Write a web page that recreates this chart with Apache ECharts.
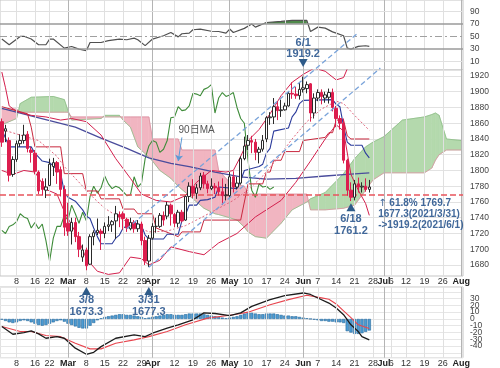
<!DOCTYPE html>
<html><head><meta charset="utf-8">
<script src="https://cdn.jsdelivr.net/npm/echarts@6/dist/echarts.min.js"></script>
<style>html,body{margin:0;padding:0;background:#fff}#c{width:500px;height:368px}</style>
</head><body><div id="c"></div>
<script>
// ---- categories (trading days, incl. future days for the cloud) ----
const febDays=[2,3,4,5,8,9,10,11,12,16,17,18,19,22,23,24,25,26];
const marDays=[1,2,3,4,5,8,9,10,11,12,15,16,17,18,19,22,23,24,25,26,29,30,31];
const aprDays=[1,5,6,7,8,9,12,13,14,15,16,19,20,21,22,23,26,27,28,29,30];
const mayDays=[3,4,5,6,7,10,11,12,13,14,17,18,19,20,21,24,25,26,27,28];
const junDays=[1,2,3,4,7,8,9,10,11,14,15,16,17,18,21,22,23,24,25,28,29,30];
const julDays=[1,2,6,7,8,9,12,13,14,15,16,19,20,21,22,23,26,27,28,29,30];
const augDays=[2];
const tickIdx=[4,9,13,18,23,28,33,38,41,47,52,57,62,67,72,77,82,86,91,96,101,104,106,110,115,120,125];
const tickText=['8','16','22','Mar','8','15','22','29','Apr','12','19','26','May','10','17','24','Jun','7','14','21','28','Jul','6','12','19','26','Aug'];
const monthIdx=[18,41,62,82,104,125];

// ---- price (OHLC) ----
const open=[1862,1850,1838,1795,1814,1834,1838,1846,1826,1822,1798,1786,1775,1781,1805,1810,1801,1776,1733,1723,1734,1716,1690,1699,1681,1716,1721,1723,1720,1729,1731,1736,1744,1745,1738,1726,1734,1726,1732,1711,1685,1714,1729,1729,1743,1742,1756,1744,1733,1747,1737,1767,1780,1771,1778,1794,1783,1777,1780,1778,1773,1768,1768,1792,1779,1784,1815,1832,1838,1836,1823,1827,1840,1867,1868,1881,1876,1877,1882,1898,1897,1895,1903,1904,1910,1873,1892,1899,1892,1893,1899,1879,1866,1860,1813,1775,1766,1783,1779,1780,1776];
const high=[1866,1858,1842,1818,1838,1846,1858,1850,1830,1826,1800,1790,1790,1815,1816,1812,1805,1781,1759,1740,1740,1722,1706,1702,1719,1724,1739,1726,1734,1742,1737,1755,1748,1748,1740,1740,1737,1737,1735,1716,1718,1733,1740,1746,1748,1760,1758,1746,1750,1750,1768,1785,1789,1783,1797,1798,1787,1790,1784,1786,1790,1783,1798,1799,1792,1818,1843,1845,1844,1840,1830,1845,1869,1874,1892,1888,1890,1886,1900,1912,1906,1911,1919.2,1913,1911,1898,1903,1903,1900,1904,1904,1882,1870,1866,1815,1785,1788,1791,1785,1790,1788];
const low=[1830,1836,1786,1792,1811,1830,1834,1823,1810,1795,1770,1768,1765,1780,1793,1783,1767,1717,1717,1706,1709,1690,1684,1673.3,1680,1705,1718,1699,1714,1723,1722,1713,1728,1725,1722,1724,1721,1722,1705,1680,1677.3,1712,1721,1727,1730,1738,1730,1728,1728,1734,1736,1760,1765,1764,1775,1777,1771,1775,1770,1768,1756,1762,1765,1772,1776,1782,1813,1826,1822,1813,1809,1824,1836,1858,1859,1864,1868,1876,1881,1891,1891,1890,1899,1898,1862,1866,1888,1884,1886,1885,1875,1855,1852,1809,1768,1761.2,1762,1772,1772,1773,1772];
const close=[1836,1853,1794,1814,1834,1838,1845,1828,1823,1799,1774,1776,1779,1808,1810,1798,1776,1728,1723,1734,1716,1700,1699,1679,1716,1721,1724,1720,1729,1731,1735,1745,1741,1739,1727,1734,1726,1732,1711,1685,1714,1729,1729,1743,1737,1756,1745,1733,1747,1736,1767,1780,1771,1778,1793,1783,1777,1780,1778,1773,1768,1769,1792,1779,1784,1815,1831,1838,1836,1823,1827,1838,1867,1868,1881,1876,1877,1882,1898,1897,1895,1903,1905,1909,1873,1892,1899,1894,1896,1899,1880,1866,1860,1813,1775,1766,1783,1779,1780,1776,1779];

// ---- indicator lines: [dayIndex, value] ----
const lagging=[1724,1720,1729,1731,1735,1745,1741,1739,1727,1734,1726,1732,1711,1685,1714,1729,1729,1743,1737,1756,1745,1733,1747,1736,1767,1780,1771,1778,1793,1783,1777,1780,1778,1773,1768,1769,1792,1779,1784,1815,1831,1838,1836,1823,1827,1838,1867,1868,1881,1876,1877,1882,1898,1897,1895,1903,1905,1909,1873,1892,1899,1894,1896,1899,1880,1866,1860,1813,1775,1766,1783,1779,1780,1776,1779];
const ma90=[[0,1879],[9,1868],[20,1855],[27,1841],[34,1828],[40,1816],[46,1809],[51,1805],[58,1798],[65,1792],[72,1789],[80,1790],[88,1793],[94,1795],[100,1797]];
const ma25=[[0,1852],[5,1845],[10,1838],[15,1818],[17,1805],[20,1790],[25,1765],[28,1752],[32,1740],[36,1730],[40,1722],[45,1723],[50,1730],[55,1742],[59,1752],[63,1762],[67,1775],[71,1793],[75,1815],[79,1840],[83,1862],[87,1878],[91,1888],[93,1885],[96,1870],[100,1851]];
const bbUpper=[[0,1925],[1,1905],[2,1882],[4,1875],[8,1870],[12,1868],[16,1864],[19,1866],[23,1862],[27,1845],[31,1815],[35,1790],[38,1770],[42,1762],[46,1760],[50,1768],[53,1785],[57,1800],[61,1798],[63,1800],[65,1818],[67,1838],[70,1852],[73,1872],[76,1895],[79,1912],[82,1922],[85,1930],[88,1926],[91,1915],[93,1918],[95,1940],[97,1950],[100,1952]];
const bbLower=[[0,1800],[3,1795],[6,1800],[9,1798],[12,1776],[15,1770],[17,1748],[20,1722],[23,1688],[26,1672],[29,1668],[32,1670],[35,1690],[38,1688],[40,1680],[43,1686],[46,1703],[51,1697],[55,1693],[59,1708],[64,1720],[69,1741],[76,1762],[80,1785],[84,1812],[88,1840],[91,1858],[93,1850],[95,1795],[97,1775],[99,1758],[100,1743]];
const kijun=[[0,1881],[7,1872],[8,1855],[9,1830],[16,1830],[17,1796],[22,1796],[23,1774],[26,1774],[27,1764],[32,1764],[33,1751],[36,1751],[37,1745],[41,1745],[42,1727],[48,1716],[49,1722],[54,1722],[55,1737],[65,1737],[66,1760],[67,1783],[71,1783],[72,1798],[73,1798],[74,1813],[76,1813],[77,1824],[81,1824],[82,1838],[88,1842],[89,1848],[90,1848],[91,1864],[93,1864],[94,1844],[95,1840],[100,1840]];
const tenkan=[[0,1852],[2,1830],[8,1830],[9,1822],[11,1812],[13,1810],[16,1797],[17,1772],[18,1766],[20,1761],[22,1750],[23,1742],[24,1739],[25,1727],[26,1716],[27,1707],[30,1707],[31,1714],[32,1718],[33,1727],[36,1734],[38,1730],[39,1718],[40,1713],[44,1713],[45,1719],[48,1719],[49,1736],[50,1744],[51,1756],[53,1756],[54,1762],[56,1763],[58,1766],[59,1779],[64,1777],[65,1787],[66,1800],[70,1805],[71,1808],[72,1822],[73,1828],[74,1850],[78,1854],[79,1868],[80,1874],[81,1885],[82,1889],[90,1890],[91,1884],[92,1881],[93,1856],[94,1836],[95,1832],[98,1832],[99,1822],[100,1816]];
// cloud (leading spans), shared day positions
const cloudIdx=[0,4,5,8,14,17,18,19,27,28,32,33,35,37,40,41,43,46,48,49,55,58,59,62,64,66,67,69,72,76,79,83,84,88,93,96,99,101,104,109,115,117,118,119,121,125];
const spanA=[1858,1866,1885,1893,1894,1890,1876,1864,1866,1870,1870,1864,1855,1830,1817,1812,1800,1790,1780,1776,1752,1745,1744,1740,1737,1728,1722,1716,1714,1733,1750,1760,1764,1772,1796,1815,1830,1836,1843,1864,1868,1871,1873,1870,1840,1838];
const spanB=[1878,1878,1874,1874,1874,1874,1874,1868,1868,1868,1868,1868,1868,1868,1868,1840,1840,1840,1840,1826,1826,1826,1800,1785,1782,1780,1770,1770,1770,1770,1770,1770,1750,1750,1752,1756,1775,1788,1797,1797,1797,1803,1813,1820,1826,1826];
// trend channel
const trendUpper=[[34,1726],[97,1975]];
const trendLower=[[40,1677],[103,1930]];
const fibLevel=1769.7;

// ---- RSI ----
const rsi=[[0,45.5],[2,36.4],[5,49.7],[6,50],[8,45.5],[10,36.4],[12,36.4],[13,45.5],[14,45.5],[17,31],[19,33.6],[21,29.4],[23,26.8],[24,40],[27,40],[29,43],[32,45.5],[34,44.4],[36,47],[37,44.4],[39,35],[41,45.5],[44,50.8],[46,56],[48,49],[49,54],[51,55],[52,60.4],[54,61.5],[57,58],[59,57.6],[61,55],[62,61.5],[63,56],[66,62.6],[68,69.6],[69,64.6],[72,72],[76,73.7],[79,75.3],[83,75.3],[84,57.7],[86,64.6],[88,63],[90,57],[91,55],[93,50.8],[94,31],[95,29.5],[97,33.7],[99,34.8],[100,33.7]];
const rsiHot=[[71,70],[72,72],[76,73.7],[79,75.3],[83,75.3],[83,70]];
const rsiTicks=[10,30,50,70,90];

// ---- MACD ----
const macd=[[0,-11],[3,-22.5],[6,-20],[8,-17.5],[10,-22],[12,-28.4],[15,-26],[17,-28.4],[20,-43],[23,-52],[25,-49],[27,-40.7],[31,-28.4],[36,-23.4],[39,-26],[41,-21],[45,-13.6],[48,-8.6],[52,-1.2],[55,9],[58,8],[62,5],[65,9],[68,18.5],[73,28.4],[77,34.4],[82,38.2],[84,36],[86,30.8],[89,23.4],[91,16],[93,6.2],[95,-8.6],[97,-18.5],[98,-26],[100,-30.8]];
const signal=[[0,-11],[5,-18.5],[8,-18.5],[12,-24.4],[16,-26],[20,-35.8],[24,-44],[27,-44],[31,-35.8],[36,-30.8],[40,-26],[45,-18.5],[50,-8.6],[56,1.2],[63,6.2],[67,10],[73,21],[78,28.4],[83,34.8],[87,31],[89,29],[91,22],[93,12],[95,2],[97,-8.6],[100,-14]];
const hist=[-1,-3,-5,-6,-5,-3,-2,-3,-5,-7,-9,-10,-9,-7,-5,-3,-2,-4,-7,-9,-11,-13,-14,-14,-10,-6,-2,1,3,4,5,6,7,7,6,6,5,4,3,1,2,3,4,5,6,7,7,6,6,6,7,8,8,8,8,7,6,5,4,3,2,1,2,3,4,6,8,9,9,8,7,7,8,8,8,7,6,5,5,4,4,3,2,1,0,-1,-2,-3,-3,-4,-4,-5,-5,-6,-18,-20,-22,-22,-21,-19,-17];

// ---- annotations (price-scale positions) ----
const annIdx=[82,23,40,95];
const annText=['6/1\n1919.2','3/8\n1673.3','3/31\n1677.3','6/18\n1761.2'];
const annPos=[1936.5,1647,1647,1753.3];
const annDown=[true,false,false,false];
const annGap=[-1,-0.5,-0.5,2];

// ---------------------------------------------------------------
const cats=[];
[[2,febDays],[3,marDays],[4,aprDays],[5,mayDays],[6,junDays],[7,julDays],[8,augDays]].forEach(([m,ds])=>ds.forEach(d=>cats.push(m+'/'+d)));
const candle=open.map((o,i)=>[o,close[i],low[i],high[i]]);
const FONT='"Liberation Sans", Arial, "Noto Sans CJK JP", sans-serif';
const vLines=tickIdx.map(i=>({xAxis:i,lineStyle:{color:monthIdx.includes(i)?'#b4b4b4':'#e0e0e0',width:1,type:'solid'}}));
const tickSet=new Set(tickIdx);
const labelCfg={show:true,interval:(idx)=>tickSet.has(idx),hideOverlap:false,fontSize:9,color:'#333',margin:1,
  formatter:(v,idx)=>{const k=tickIdx.indexOf(idx);if(k<0)return '';const t=tickText[k];return /[A-Z]/.test(t)?'{b|'+t+'}':t;},
  rich:{b:{fontWeight:'bold',fontSize:9,color:'#222'}}};
const xBase={type:'category',data:cats,boundaryGap:true,axisTick:{show:false},axisLine:{show:false},splitLine:{show:false}};
const blueTxt='#41689a';
function line(data,color,width,extra){return Object.assign({type:'line',xAxisIndex:1,yAxisIndex:1,data:data,symbol:'none',silent:true,lineStyle:{color:color,width:width},z:3},extra||{});}
const cloudGreen='#b4d9ad', cloudPink='#f1b5c1';
// overlay grid spanning the whole canvas on the same price scale (for annotations outside the price panel)
const mainTop=70, mainH=206, mainMin=1666, mainMax=1927.6;
const pxPer=mainH/(mainMax-mainMin);
const ovMax=mainMax+mainTop/pxPer, ovMin=ovMax-368/pxPer;

const option={
  animation:false,backgroundColor:'#fff',
  textStyle:{fontFamily:FONT},
  grid:[
    {left:0,right:37,top:0,height:70,show:true,borderColor:'#c4c4c4',borderWidth:1,outerBoundsMode:'none'},
    {left:0,right:37,top:mainTop,height:mainH,show:true,borderColor:'#c4c4c4',borderWidth:1,outerBoundsMode:'none'},
    {left:0,right:37,top:287,height:70.7,show:true,borderColor:'#c4c4c4',borderWidth:1,outerBoundsMode:'none'},
    {left:0,right:37,top:0,height:368,show:false,outerBoundsMode:'none'}
  ],
  xAxis:[
    Object.assign({},xBase,{gridIndex:0,axisLabel:{show:false}}),
    Object.assign({},xBase,{gridIndex:1,axisLabel:labelCfg}),
    Object.assign({},xBase,{gridIndex:2,axisLabel:labelCfg}),
    Object.assign({},xBase,{gridIndex:3,show:false})
  ],
  yAxis:[
    {gridIndex:0,type:'value',position:'right',min:-4,max:108,minInterval:10,maxInterval:10,axisLine:{show:false},axisTick:{show:false},splitLine:{show:false},
      axisLabel:{fontSize:8.5,color:'#444',margin:7,formatter:v=>rsiTicks.includes(Math.round(v))&&Math.abs(v-Math.round(v))<1e-6?String(v):''}},
    {gridIndex:1,type:'value',position:'right',min:mainMin,max:mainMax,minInterval:20,maxInterval:20,axisLine:{show:false},axisTick:{show:false},
      splitLine:{show:true,lineStyle:{color:'#e2e2e2',width:1}},
      axisLabel:{fontSize:8.5,color:'#444',margin:7,formatter:v=>(Math.abs(v%20)<1e-6&&v>=1680&&v<=1920)?String(v):''}},
    {gridIndex:2,type:'value',position:'right',min:-57,max:47,minInterval:10,maxInterval:10,axisLine:{show:false},axisTick:{show:false},
      splitLine:{show:true,lineStyle:{color:'#e6e6e6',width:1}},
      axisLabel:{fontSize:8.5,color:'#444',margin:7,formatter:v=>(Math.abs(v%10)<1e-6&&v>=-40&&v<=30)?String(v):''}},
    {gridIndex:3,type:'value',min:ovMin,max:ovMax,show:false,splitLine:{show:false}}
  ],
  series:[
    // ---------- RSI panel ----------
    {type:'line',xAxisIndex:0,yAxisIndex:0,data:[],silent:true,z:0,
      markLine:{silent:true,symbol:['none','none'],label:{show:false},animation:false,data:vLines.concat([
        {yAxis:90,lineStyle:{color:'#e0e0e0',width:1,type:'solid'}},
        {yAxis:10,lineStyle:{color:'#e0e0e0',width:1,type:'solid'}},
        {yAxis:70,lineStyle:{color:'#9a9a9a',width:1.5,type:'solid'}},
        {yAxis:30,lineStyle:{color:'#9a9a9a',width:1.5,type:'solid'}},
        {yAxis:50,lineStyle:{color:'#a0a0a0',width:1,type:[7,3,2,3]}}
      ])}},
    {type:'custom',xAxisIndex:0,yAxisIndex:0,silent:true,z:2,data:[rsiHot[0]],
      renderItem:(p,api)=>({type:'polygon',shape:{points:rsiHot.map(pt=>api.coord(pt))},style:{fill:'#4f8a4b'}})},
    {type:'line',xAxisIndex:0,yAxisIndex:0,data:rsi,symbol:'none',silent:true,z:3,lineStyle:{color:'#505050',width:1.2}},

    // ---------- main panel ----------
    {type:'line',xAxisIndex:1,yAxisIndex:1,data:[],silent:true,z:0,
      markLine:{silent:true,symbol:['none','none'],label:{show:false},animation:false,data:vLines}},
    {type:'custom',xAxisIndex:1,yAxisIndex:1,silent:true,z:1,clip:true,
      data:cloudIdx.map((x,k)=>[x,spanA[k],spanB[k]]),encode:{x:0,y:[1,2]},
      renderItem:(params,api)=>{
        const k=params.dataIndex;
        if(k>=cloudIdx.length-1) return {type:'group',children:[]};
        const x0=cloudIdx[k],x1=cloudIdx[k+1];
        const a0=api.coord([x0,spanA[k]]),b0=api.coord([x0,spanB[k]]);
        const a1=api.coord([x1,spanA[k+1]]),b1=api.coord([x1,spanB[k+1]]);
        const d0=spanA[k]-spanB[k],d1=spanA[k+1]-spanB[k+1];
        const col=d=>d>=0?cloudGreen:cloudPink;
        const poly=(pts,c)=>({type:'polygon',shape:{points:pts},style:{fill:c,stroke:c,lineWidth:0.6}});
        const ch=[];
        if(d0*d1>=0){ch.push(poly([a0,a1,b1,b0],col(d0!==0?d0:d1)));}
        else{const t=d0/(d0-d1);const c=[a0[0]+t*(a1[0]-a0[0]),a0[1]+t*(a1[1]-a0[1])];
          ch.push(poly([a0,c,b0],col(d0)));ch.push(poly([c,a1,b1],col(d1)));}
        return {type:'group',children:ch};
      }},
    line(cloudIdx.map((x,k)=>[x,spanA[k]]),'#8dbd86',0.8,{z:2}),
    line(cloudIdx.map((x,k)=>[x,spanB[k]]),'#d8909f',0.8,{z:2}),
    line(lagging,'#3f8c3a',1.1),
    line(ma90,'#4a4c9c',1.3),
    line(bbUpper,'#d3204d',1),
    line(bbLower,'#d3204d',1),
    line(kijun,'#c8283e',1),
    line(ma25,'#e0667e',1,{lineStyle:{color:'#e0667e',width:1,type:[2,2]}}),
    line(tenkan,'#2c3c9c',1.1),
    {type:'candlestick',xAxisIndex:1,yAxisIndex:1,data:candle,barWidth:3,silent:true,z:5,
      itemStyle:{color:'#ffffff',color0:'#dc1e4e',borderColor:'#2a2a2a',borderColor0:'#dc1e4e',borderWidth:1},
      markLine:{silent:true,symbol:['none','none'],label:{show:false},animation:false,
        data:[{yAxis:fibLevel,lineStyle:{color:'#e8545c',width:1.5,type:[6,3]}}]}},
    line(trendUpper,'#79a3da',1.3,{clip:false,z:6,lineStyle:{color:'#79a3da',width:1.3,type:[5,3]}}),
    line(trendLower,'#79a3da',1.3,{clip:false,z:6,lineStyle:{color:'#79a3da',width:1.3,type:[5,3]}}),
    // annotations on the overlay grid (same price scale, whole canvas)
    {type:'line',xAxisIndex:3,yAxisIndex:3,data:[],silent:true,z:20,
      markLine:{silent:true,animation:false,symbol:['none','arrow'],symbolSize:6,label:{show:false},
        data:[[{coord:[49,1842]},{coord:[48,1812]}]],lineStyle:{color:'#5b9ad6',width:1,type:'solid'}},
      markPoint:{silent:true,animation:false,data:annIdx.map((ix,k)=>({
          coord:[ix,annPos[k]],symbol:'triangle',symbolRotate:annDown[k]?180:0,symbolSize:[9,8],
          itemStyle:{color:'#2e5b89'},
          label:{show:true,position:annDown[k]?'top':'bottom',distance:annGap[k],formatter:annText[k],
            color:blueTxt,fontSize:11,fontWeight:'bold',lineHeight:11.5,align:'center',fontFamily:FONT}
        })).concat([
          {coord:[53,1851],symbol:'circle',symbolSize:1,itemStyle:{color:'rgba(0,0,0,0)'},
            label:{show:true,position:'inside',formatter:'90日MA',color:'#555',fontSize:10,fontFamily:FONT}},
          {coord:[105,fibLevel],symbol:'circle',symbolSize:1,itemStyle:{color:'rgba(0,0,0,0)'},
            label:{show:true,position:[-9,4],align:'left',verticalAlign:'top',lineHeight:11,
              formatter:'{a|↑} 61.8% 1769.7\n1677.3(2021/3/31)\n->1919.2(2021/6/1)',color:blueTxt,fontSize:10,fontWeight:'bold',fontFamily:FONT,
              rich:{a:{fontFamily:'"DejaVu Sans", sans-serif',fontWeight:'normal',fontSize:10,color:blueTxt,lineHeight:11}}}}
        ])}},

    // ---------- MACD panel ----------
    {type:'line',xAxisIndex:2,yAxisIndex:2,data:[],silent:true,z:0,
      markLine:{silent:true,symbol:['none','none'],label:{show:false},animation:false,data:vLines}},
    {type:'bar',xAxisIndex:2,yAxisIndex:2,data:hist,barCategoryGap:'12%',silent:true,z:2,
      itemStyle:{color:'#4b9bd3',borderColor:'#28699c',borderWidth:0.6}},
    {type:'line',xAxisIndex:2,yAxisIndex:2,data:signal,symbol:'none',silent:true,z:3,lineStyle:{color:'#e8464f',width:1.1}},
    {type:'line',xAxisIndex:2,yAxisIndex:2,data:macd,symbol:'none',silent:true,z:4,lineStyle:{color:'#1c1c1c',width:1.3}}
  ]
};
echarts.init(document.getElementById('c'),null,{renderer:'canvas'}).setOption(option);
</script>
</body></html>
